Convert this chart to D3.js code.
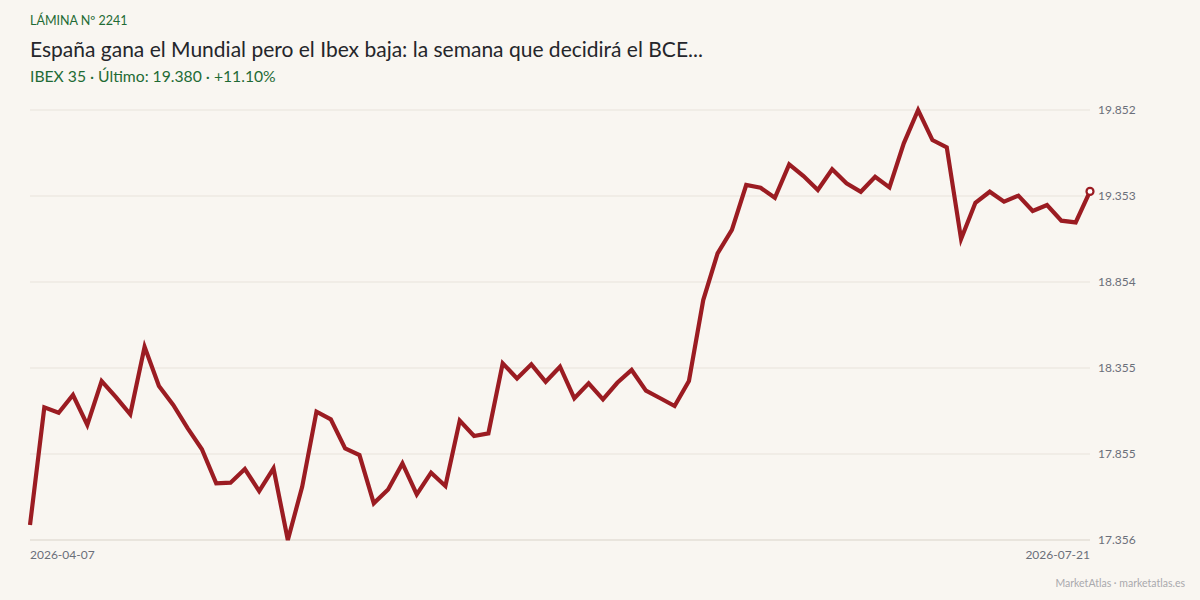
<!DOCTYPE html>
<html>
<head>
<meta charset="utf-8">
<script src="https://cdn.jsdelivr.net/npm/d3@7"></script>
<style>
  html, body { margin: 0; padding: 0; background: #f9f6f1; }
  svg { display: block; font-family: Lato, "Open Sans", sans-serif; }
</style>
</head>
<body>
<svg id="chart" width="1200" height="600"></svg>
<script>
// IBEX 35 closes, daily sessions
var values = [
  17.443, 18.126, 18.095, 18.198, 18.024, 18.279, 18.186, 18.086, 18.478, 18.250,
  18.140, 18.006, 17.883, 17.685, 17.689, 17.768, 17.640, 17.772, 17.3562, 17.665,
  18.101, 18.057, 17.888, 17.849, 17.569, 17.650, 17.801, 17.621, 17.747, 17.670,
  18.049, 17.960, 17.975, 18.382, 18.294, 18.376, 18.275, 18.362, 18.179, 18.266,
  18.173, 18.269, 18.343, 18.223, 18.179, 18.134, 18.279, 18.749, 19.020, 19.156,
  19.417, 19.401, 19.343, 19.537, 19.469, 19.388, 19.508, 19.427, 19.378, 19.465,
  19.403, 19.659, 19.8524, 19.678, 19.636, 19.103, 19.314, 19.378, 19.320, 19.355,
  19.266, 19.301, 19.210, 19.200, 19.380
];
var dateLabels = ["2026-04-07", "2026-07-21"];
var kicker = "LÁMINA Nº 2241";
var title = "España gana el Mundial pero el Ibex baja: la semana que decidirá el BCE...";
var subtitle = "IBEX 35 · Último: 19.380 · +11.10%";
var credit = "MarketAtlas · marketatlas.es";

var svg = d3.select("#chart");
var margin = {top: 110, right: 110, bottom: 60, left: 30},
    width = 1200 - margin.left - margin.right,
    height = 600 - margin.top - margin.bottom;

var fmt = d3.format(",.3f");
var fmtEs = function(v) { return fmt(v).replace(",", "."); };

var x = d3.scaleLinear().domain([0, values.length - 1]).range([0, width]);
var lo = d3.min(values), hi = d3.max(values);
var y = d3.scaleLinear().domain([lo, hi]).range([height, 0]);
var yTicks = d3.range(6).map(function(i) { return lo + (hi - lo) * i / 5; });

var g = svg.append("g")
  .attr("transform", "translate(" + margin.left + "," + margin.top + ")");

// grid lines
g.selectAll(".grid")
  .data(yTicks)
  .enter().append("line")
  .attr("x1", 0).attr("x2", width)
  .attr("y1", function(d) { return y(d); })
  .attr("y2", function(d) { return y(d); })
  .attr("stroke", function(d, i) { return i === 0 ? "#d9d3c9" : "#e8e3db"; })
  .attr("stroke-width", 1);

// right axis labels
var yAxis = d3.axisRight(y).tickValues(yTicks).tickSize(0).tickPadding(8).tickFormat(fmtEs);
g.append("g")
  .attr("transform", "translate(" + width + ",0)")
  .call(yAxis)
  .call(function(s) { s.select(".domain").remove(); })
  .selectAll("text")
  .attr("fill", "#6b6f7a")
  .style("font-size", "12px")
  .style("font-family", "Lato, sans-serif");

// x labels: first and last
g.append("text")
  .attr("x", x(0)).attr("y", height + 19)
  .attr("fill", "#6b6f7a").style("font-size", "12px")
  .text(dateLabels[0]);
g.append("text")
  .attr("x", x(values.length - 1)).attr("y", height + 19)
  .attr("text-anchor", "end")
  .attr("fill", "#6b6f7a").style("font-size", "12px")
  .text(dateLabels[1]);

// the line
var line = d3.line()
  .x(function(d, i) { return x(i); })
  .y(function(d) { return y(d); });

g.append("path")
  .datum(values)
  .attr("fill", "none")
  .attr("stroke", "#9b1c22")
  .attr("stroke-width", 4.2)
  .attr("stroke-linejoin", "miter")
  .attr("d", line);

// end marker
var last = values.length - 1;
g.append("circle")
  .attr("cx", x(last)).attr("cy", y(values[last]))
  .attr("r", 3.5)
  .attr("fill", "#ffffff")
  .attr("stroke", "#9b1c22")
  .attr("stroke-width", 2.2);

// header
svg.append("text")
  .attr("x", 30).attr("y", 25)
  .attr("fill", "#1f6b35").style("font-size", "12.5px")
  .text(kicker);
svg.append("text")
  .attr("x", 30).attr("y", 57)
  .attr("fill", "#25262b").style("font-size", "21px")
  .text(title);
svg.append("text")
  .attr("x", 30).attr("y", 82)
  .attr("fill", "#1f6b35").style("font-size", "15.7px")
  .text(subtitle);

// footer
svg.append("text")
  .attr("x", 1185).attr("y", 587)
  .attr("text-anchor", "end")
  .attr("fill", "#a9a9ad").style("font-size", "10.5px")
  .text(credit);
</script>
</body>
</html>
